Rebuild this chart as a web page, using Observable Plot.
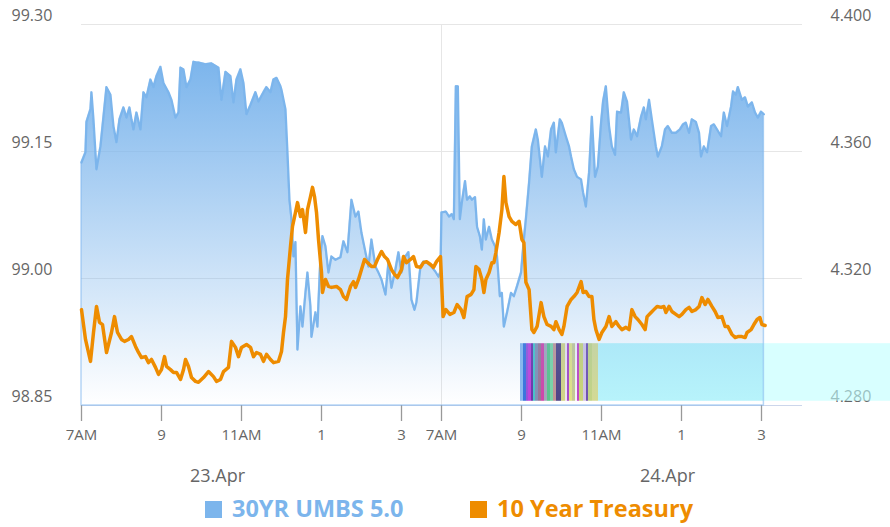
<!DOCTYPE html>
<html>
<head>
<meta charset="utf-8">
<script src="https://cdn.jsdelivr.net/npm/d3@7"></script>
<script src="https://cdn.jsdelivr.net/npm/@observablehq/plot@0.6"></script>
<style>
  html, body { margin: 0; padding: 0; background: #fff; }
  body { width: 890px; height: 527px; overflow: hidden; font-family: "Open Sans", sans-serif; }
  #legend { position: relative; width: 890px; height: 37px; }
  .item { position: absolute; top: 4px; font-weight: 700; font-size: 23.5px; line-height: 28px; white-space: nowrap; }
  .sw { display: inline-block; width: 17px; height: 17px; margin-right: 10px; vertical-align: -1px; }
</style>
</head>
<body>
<div id="chart"></div>
<div id="legend"></div>
<script>
// ---- Data ----
const seriesNames = ["30YR UMBS 5.0", "10 Year Treasury"];
const seriesColors = ["#7cb5ec", "#ee8c00"];

// 30YR UMBS 5.0 (left axis), clock hours per day
const umbsDay1Time = [7.0,7.10,7.125,7.225,7.25,7.30,7.375,7.475,7.55,7.625,
7.725,7.80,7.875,7.95,8.05,8.125,8.20,8.25,8.30,8.375,
8.475,8.55,8.625,8.725,8.80,8.875,8.975,9.05,9.175,9.25,
9.35,9.425,9.475,9.55,9.625,9.725,9.80,9.875,9.925,10.10,
10.25,10.425,10.50,10.60,10.725,10.80,10.875,10.975,11.05,11.125,
11.225,11.35,11.425,11.55,11.625,11.725,11.80,11.875,11.975,12.00,
12.10,12.15,12.20,12.25,12.30,12.35,12.40,12.475,12.525,12.60,
12.65,12.725,12.75,12.85,12.90,12.975,13.025,13.10,13.175,13.25,
13.35,13.475,13.55,13.65,13.75,13.85,13.925,14.00,14.10,14.175,
14.25,14.35,14.425,14.50,14.60,14.675,14.75,14.85,14.925,15.00,
15.10,15.175,15.25,15.325,15.375,15.475,15.55,15.625,15.75,15.85,
15.925,15.975];
const umbsDay1Value = [99.137,99.149,99.185,99.200,99.220,99.188,99.129,99.156,99.191,99.226,
99.217,99.180,99.161,99.188,99.202,99.190,99.202,99.188,99.176,99.196,
99.176,99.220,99.214,99.235,99.226,99.239,99.250,99.231,99.220,99.211,
99.190,99.196,99.249,99.247,99.226,99.235,99.256,99.255,99.255,99.253,
99.254,99.249,99.211,99.244,99.239,99.208,99.235,99.247,99.231,99.194,
99.205,99.220,99.209,99.220,99.226,99.220,99.235,99.237,99.227,99.223,
99.200,99.149,99.093,99.070,99.026,99.043,98.916,98.967,98.943,98.983,
99.007,98.967,98.931,98.960,98.943,99.026,99.050,99.038,99.007,99.026,
99.022,99.025,99.044,99.031,99.093,99.073,99.079,99.054,99.031,99.014,
99.046,99.014,99.007,98.999,98.981,99.019,98.989,99.011,99.031,99.007,
99.026,99.031,98.975,98.963,98.972,99.014,99.020,99.019,99.014,99.008,
99.002,99.008];
const umbsDay2Time = [7.0,7.11,7.19,7.26,7.31,7.36,7.41,7.46,7.51,7.59,
7.64,7.71,7.76,7.84,7.89,7.96,8.01,8.06,8.11,8.19,
8.26,8.34,8.39,8.46,8.51,8.56,8.64,8.74,8.81,8.89,
8.99,9.06,9.11,9.19,9.26,9.36,9.41,9.51,9.59,9.66,
9.74,9.81,9.86,9.96,10.01,10.11,10.19,10.24,10.31,10.39,
10.49,10.54,10.61,10.69,10.76,10.84,10.91,10.99,11.04,11.11,
11.19,11.26,11.34,11.39,11.49,11.56,11.64,11.74,11.81,11.89,
11.99,12.06,12.11,12.19,12.26,12.36,12.41,12.51,12.59,12.66,
12.76,12.86,12.96,13.04,13.11,13.19,13.26,13.36,13.44,13.49,
13.56,13.64,13.74,13.81,13.89,13.99,14.06,14.14,14.24,14.29,
14.36,14.41,14.51,14.59,14.66,14.76,14.84,14.91,14.99,15.06];
const umbsDay2Value = [99.078,99.079,99.073,99.076,99.070,99.227,99.227,99.070,99.090,99.115,
99.093,99.097,99.093,99.096,99.061,99.050,99.034,99.070,99.046,99.061,
99.046,99.038,99.026,98.979,98.983,98.943,98.960,98.983,98.979,98.991,
99.007,99.046,99.070,99.113,99.156,99.176,99.164,99.120,99.156,99.144,
99.176,99.184,99.149,99.188,99.184,99.168,99.156,99.144,99.129,99.120,
99.117,99.102,99.085,99.125,99.191,99.120,99.132,99.184,99.209,99.227,
99.180,99.156,99.146,99.197,99.196,99.220,99.209,99.164,99.176,99.168,
99.191,99.202,99.188,99.211,99.188,99.156,99.144,99.156,99.176,99.180,
99.172,99.172,99.176,99.182,99.184,99.172,99.188,99.185,99.172,99.144,
99.156,99.149,99.180,99.182,99.176,99.168,99.196,99.180,99.203,99.221,
99.217,99.226,99.211,99.214,99.203,99.208,99.196,99.190,99.197,99.194];

// 10 Year Treasury (right axis)
const tsyDay1Time = [7.0,7.10,7.225,7.30,7.375,7.45,7.525,7.625,7.75,7.825,
7.90,8.00,8.075,8.175,8.25,8.35,8.425,8.50,8.60,8.675,
8.75,8.85,8.925,9.00,9.075,9.125,9.225,9.30,9.375,9.475,
9.55,9.60,9.675,9.75,9.85,9.925,10.05,10.175,10.30,10.375,
10.475,10.55,10.675,10.75,10.85,10.925,11.00,11.125,11.225,11.30,
11.375,11.475,11.55,11.625,11.725,11.80,11.925,12.00,12.05,12.10,
12.15,12.225,12.275,12.35,12.40,12.475,12.525,12.60,12.65,12.725,
12.775,12.825,12.875,12.925,13.00,13.025,13.10,13.175,13.25,13.375,
13.475,13.55,13.625,13.725,13.80,13.85,13.925,14.00,14.075,14.15,
14.25,14.325,14.40,14.50,14.575,14.65,14.75,14.825,14.90,15.00,
15.05,15.125,15.225,15.30,15.375,15.475,15.55,15.625,15.725,15.80,
15.875,15.975];
const tsyDay1Value = [4.3102,4.3008,4.2939,4.3030,4.3112,4.3062,4.3055,4.2967,4.3030,4.3080,
4.3030,4.3008,4.3002,4.3008,4.3017,4.2986,4.2967,4.2951,4.2954,4.2935,
4.2945,4.2920,4.2898,4.2913,4.2954,4.2923,4.2913,4.2904,4.2904,4.2882,
4.2913,4.2945,4.2923,4.2888,4.2876,4.2873,4.2888,4.2907,4.2891,4.2876,
4.2882,4.2907,4.2920,4.3002,4.2983,4.2954,4.2983,4.2992,4.2983,4.2954,
4.2967,4.2961,4.2939,4.2961,4.2945,4.2935,4.2939,4.2970,4.3030,4.3080,
4.3197,4.3301,4.3364,4.3408,4.3439,4.3395,4.3417,4.3345,4.3417,4.3458,
4.3487,4.3458,4.3408,4.3323,4.3219,4.3156,4.3197,4.3175,4.3172,4.3175,
4.3165,4.3143,4.3134,4.3175,4.3190,4.3172,4.3197,4.3228,4.3260,4.3250,
4.3238,4.3238,4.3260,4.3285,4.3269,4.3260,4.3228,4.3213,4.3203,4.3228,
4.3269,4.3250,4.3260,4.3269,4.3238,4.3235,4.3250,4.3253,4.3244,4.3235,
4.3253,4.3269];
const tsyDay2Time = [7.04,7.11,7.21,7.31,7.39,7.49,7.56,7.64,7.74,7.81,
7.86,7.94,8.01,8.06,8.11,8.19,8.26,8.31,8.36,8.44,
8.51,8.56,8.61,8.69,8.76,8.86,8.94,9.01,9.06,9.11,
9.19,9.26,9.31,9.39,9.49,9.56,9.64,9.74,9.81,9.86,
9.94,10.01,10.06,10.14,10.24,10.31,10.39,10.49,10.54,10.61,
10.69,10.76,10.81,10.86,10.94,11.01,11.11,11.19,11.26,11.36,
11.44,11.51,11.61,11.69,11.76,11.84,11.91,12.01,12.09,12.14,
12.24,12.31,12.39,12.49,12.56,12.61,12.69,12.76,12.86,12.94,
13.01,13.11,13.19,13.26,13.36,13.44,13.51,13.59,13.66,13.76,
13.84,13.91,14.01,14.09,14.16,14.26,14.34,14.41,14.51,14.59,
14.64,14.74,14.81,14.89,14.96,15.01,15.09];
const tsyDay2Value = [4.3080,4.3102,4.3087,4.3093,4.3118,4.3102,4.3077,4.3143,4.3150,4.3165,
4.3238,4.3228,4.3197,4.3156,4.3197,4.3219,4.3250,4.3250,4.3282,4.3345,
4.3417,4.3521,4.3439,4.3395,4.3380,4.3370,4.3380,4.3323,4.3313,4.3188,
4.3165,4.3039,4.3030,4.3049,4.3124,4.3080,4.3055,4.3049,4.3039,4.3064,
4.3039,4.3024,4.3049,4.3112,4.3134,4.3143,4.3156,4.3190,4.3156,4.3159,
4.3143,4.3143,4.3071,4.3039,4.3008,4.3030,4.3049,4.3080,4.3049,4.3064,
4.3049,4.3039,4.3046,4.3039,4.3102,4.3080,4.3071,4.3055,4.3039,4.3080,
4.3093,4.3102,4.3112,4.3109,4.3112,4.3093,4.3112,4.3096,4.3087,4.3080,
4.3087,4.3102,4.3109,4.3096,4.3102,4.3112,4.3140,4.3118,4.3134,4.3112,
4.3096,4.3077,4.3080,4.3049,4.3049,4.3024,4.3014,4.3017,4.3017,4.3014,
4.3030,4.3039,4.3055,4.3071,4.3077,4.3055,4.3052];

// Axes
const leftTicks = [98.85, 99.00, 99.15, 99.30];
const rightTicks = [4.280, 4.320, 4.360, 4.400];
const tickDay = [1,1,1,1,1,2,2,2,2,2];
const tickClock = [7,9,11,13,15,7,9,11,13,15];
const tickLabels = ["7AM","9","11AM","1","3","7AM","9","11AM","1","3"];
const dateLabels = ["23.Apr","24.Apr"];
const dateDay = [1,2];
const dateClock = [10.4,12.65];

// Overlay block in lower right (day 2)
const overlayStart = [8.975,9.05,9.125,9.175,9.25,9.30,9.35,9.425,9.50,9.575,9.65,9.725,9.80,9.875,10.00,10.10,10.15,10.20,10.275,10.35,10.40,10.45,10.55,10.625,10.675,10.775,10.925,15.05];
const overlayEnd   = [9.05,9.125,9.175,9.25,9.30,9.35,9.425,9.50,9.575,9.65,9.725,9.80,9.875,10.00,10.10,10.15,10.20,10.275,10.35,10.40,10.45,10.55,10.625,10.675,10.775,10.925,15.05,18.25];
const overlayColor = ["#8ab8ee","#3a72dc","#9650d8","#c040dc","#6a38a8","#48c4c8","#8290b4","#9a7494","#d044a8","#a4a4b8","#58c488","#7ad4a4","#c49494","#4e4284","#d4d484","#f0e4f0","#a848c4","#e2e284","#c8c894","#f8f4f8","#c444c4","#ccd474","#d4c4e4","#7050b0","#c4d484","#d4da94","#b8f4fb","rgba(190,255,255,0.6)"];
const overlayTop = 98.923;
const overlayBottom = 98.855;

// ---- Build rows ----
const TREASURY_MIN = 4.28, UMBS_MIN = 98.85, RATIO = 0.15 / 0.04;
const sessionPos = (day, h) => (day === 1 ? 0 : 9) + (h - 7);
const toLeft = v => UMBS_MIN + (v - TREASURY_MIN) * RATIO;

const umbsRows = [
  ...umbsDay1Time.map((h, i) => ({pos: sessionPos(1, h), v: umbsDay1Value[i]})),
  ...umbsDay2Time.map((h, i) => ({pos: sessionPos(2, h), v: umbsDay2Value[i]}))
];
const tsyRows = [
  ...tsyDay1Time.map((h, i) => ({pos: sessionPos(1, h), v: toLeft(tsyDay1Value[i])})),
  ...tsyDay2Time.map((h, i) => ({pos: sessionPos(2, h), v: toLeft(tsyDay2Value[i])}))
];
const tickPos = tickClock.map((h, i) => sessionPos(tickDay[i], h));
const tickLabelByPos = new Map(tickPos.map((p, i) => [p, tickLabels[i]]));
const dateRows = dateLabels.map((t, i) => ({pos: sessionPos(dateDay[i], dateClock[i]), t}));
const overlayRows = overlayStart.map((s, i) => ({x1: sessionPos(2, s), x2: sessionPos(2, overlayEnd[i]), c: overlayColor[i]}));
const rightRows = rightTicks.map(v => ({y: toLeft(v), t: v.toFixed(3)}));

const gradient = () => {
  const defs = d3.create("svg:defs");
  const g = defs.append("linearGradient").attr("id", "umbsGrad")
    .attr("x1", 0).attr("y1", 0).attr("x2", 0).attr("y2", 1);
  g.append("stop").attr("offset", 0).attr("stop-color", seriesColors[0]).attr("stop-opacity", 1);
  g.append("stop").attr("offset", 1).attr("stop-color", seriesColors[0]).attr("stop-opacity", 0);
  return defs.node();
};

const chart = Plot.plot({
  width: 890,
  height: 490,
  marginLeft: 81,
  marginRight: 88,
  marginTop: 24,
  marginBottom: 85,
  style: {fontFamily: "Open Sans, sans-serif", background: "#fff", overflow: "visible"},
  x: {domain: [0, 18.025], axis: null},
  y: {domain: [98.85, 99.30], axis: null},
  color: {type: "identity"},
  marks: [
    gradient,
    Plot.ruleY(leftTicks.slice(1), {stroke: "#e6e6e6", strokeWidth: 1}),
    Plot.ruleX([9], {y1: 98.85, y2: 99.30, stroke: "#e6e6e6", strokeWidth: 1}),
    Plot.ruleY([98.85], {stroke: "#ccd6eb", strokeWidth: 1}),
    Plot.axisX(tickPos, {tickSize: 16, tickPadding: 8, stroke: "#999", strokeWidth: 1.3, fill: "#666", fontSize: 15,
      tickFormat: d => tickLabelByPos.get(d)}),
    Plot.text(dateRows, {x: "pos", text: "t", frameAnchor: "bottom", dy: 76, fontSize: 18, fill: "#666"}),
    Plot.text(leftTicks, {y: d => d, text: d => d.toFixed(2), frameAnchor: "left", textAnchor: "start", dx: -70, dy: -9, fontSize: 16, fill: "#666"}),
    Plot.text(rightRows, {y: "y", text: "t", frameAnchor: "right", textAnchor: "start", dx: 28, dy: -9, fontSize: 16, fill: "#666"}),
    Plot.rect(overlayRows, {x1: "x1", x2: "x2", y1: overlayBottom, y2: overlayTop, fill: "c"}),
    Plot.areaY(umbsRows, {x: "pos", y1: 98.85, y2: "v", fill: "url(#umbsGrad)", stroke: seriesColors[0], strokeOpacity: 0.55, strokeWidth: 1.5}),
    Plot.line(umbsRows, {x: "pos", y: "v", stroke: seriesColors[0], strokeWidth: 2.2, strokeLinejoin: "round"}),
    Plot.line(tsyRows, {x: "pos", y: "v", stroke: seriesColors[1], strokeWidth: 3.5, strokeLinejoin: "round"})
  ]
});
document.getElementById("chart").appendChild(chart);

const legend = document.getElementById("legend");
const legendLeft = [205, 470];
seriesNames.forEach((name, i) => {
  const item = document.createElement("div");
  item.className = "item";
  item.style.left = legendLeft[i] + "px";
  item.style.color = seriesColors[i];
  item.innerHTML = `<span class="sw" style="background:${seriesColors[i]}"></span>${name}`;
  legend.appendChild(item);
});
</script>
</body>
</html>
